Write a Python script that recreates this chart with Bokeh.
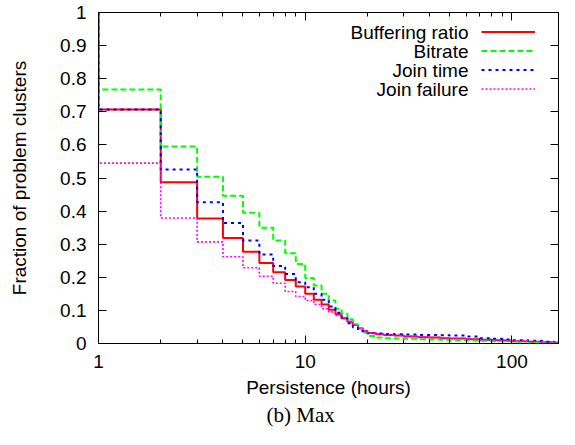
from bokeh.plotting import figure
from bokeh.models import Range1d, FixedTicker, LogAxis, LinearAxis, Legend, LegendItem, Label, Title
from bokeh.embed import file_html
from bokeh.resources import INLINE

# ---------------- data ----------------
hours = [1, 2, 3, 4, 5, 6, 7, 8, 9, 10, 11, 12, 13, 14, 15, 16, 17, 18, 19, 20,
         22, 24, 27, 30, 35, 40, 45, 50, 60, 70, 80, 90, 100, 120, 140, 160]

buffering_ratio = [0.707, 0.487, 0.378, 0.319, 0.277, 0.243, 0.215, 0.192, 0.172, 0.150,
                   0.132, 0.118, 0.102, 0.088, 0.076, 0.066, 0.056, 0.046, 0.038, 0.032,
                   0.028, 0.026, 0.024, 0.021, 0.019, 0.018, 0.016, 0.015, 0.013, 0.011,
                   0.010, 0.009, 0.007, 0.005, 0.004, 0.002]
bitrate = [0.767, 0.595, 0.504, 0.446, 0.395, 0.350, 0.311, 0.273, 0.240, 0.198,
           0.175, 0.150, 0.130, 0.105, 0.090, 0.073, 0.058, 0.046, 0.033, 0.023,
           0.018, 0.016, 0.015, 0.014, 0.013, 0.012, 0.011, 0.010, 0.009, 0.008,
           0.007, 0.006, 0.005, 0.004, 0.003, 0.002]
join_time = [0.707, 0.526, 0.427, 0.364, 0.311, 0.269, 0.234, 0.210, 0.185, 0.170,
             0.150, 0.132, 0.112, 0.093, 0.076, 0.061, 0.048, 0.039, 0.033, 0.031,
             0.030, 0.029, 0.028, 0.027, 0.026, 0.026, 0.025, 0.024, 0.021, 0.016,
             0.014, 0.012, 0.010, 0.008, 0.005, 0.003]
join_failure = [0.545, 0.379, 0.307, 0.262, 0.229, 0.203, 0.182, 0.157, 0.142, 0.130,
                0.118, 0.105, 0.095, 0.085, 0.075, 0.066, 0.056, 0.046, 0.038, 0.032,
                0.028, 0.026, 0.024, 0.022, 0.020, 0.018, 0.016, 0.015, 0.013, 0.011,
                0.010, 0.009, 0.008, 0.006, 0.004, 0.003]

series_names = ["Buffering ratio", "Bitrate", "Join time", "Join failure"]
series_values = [buffering_ratio, bitrate, join_time, join_failure]

start_fraction = 1.0
x_min, x_max = 1, 168

x_ticks = [1, 10, 100]
x_tick_labels = ["1", "10", "100"]
x_minor_ticks = [2, 3, 4, 5, 6, 7, 8, 9, 20, 30, 40, 50, 60, 70, 80, 90]
y_ticks = [0, 0.1, 0.2, 0.3, 0.4, 0.5, 0.6, 0.7, 0.8, 0.9, 1]
y_tick_labels = ["0", "0.1", "0.2", "0.3", "0.4", "0.5", "0.6", "0.7", "0.8", "0.9", "1"]

x_label = "Persistence (hours)"
y_label = "Fraction of problem clusters"
caption = "(b) Max"

# ---------------- styles ----------------
colors = ["#ff0000", "#00ff00", "#0000ff", "#ff00ff"]
dashes = ["solid", "6 3", "3 4", "2 2"]
widths = [2, 2, 2, 1.6]
FONT = "Liberation Sans"
FS = "19px"

p = figure(width=559, height=429, x_axis_type="log",
           x_range=Range1d(x_min, x_max), y_range=Range1d(0, 1),
           output_backend="svg", toolbar_location=None,
           min_border_left=98, min_border_right=1, min_border_top=12, min_border_bottom=86)
p.grid.visible = False
p.outline_line_color = "black"
p.outline_line_width = 1
p.background_fill_color = "white"
p.border_fill_color = "white"

renderers = []
for vals, c, d, w in zip(series_values, colors, dashes, widths):
    xs = [hours[0]] + hours + [x_max]
    ys = [start_fraction] + vals + [vals[-1]]
    r = p.step(xs, ys, mode="after", line_color=c, line_dash=d, line_width=w)
    renderers.append(r)

xticker = FixedTicker(ticks=x_ticks, minor_ticks=x_minor_ticks)
yticker = FixedTicker(ticks=y_ticks, minor_ticks=[])


def style_axis(ax, labels=True):
    ax.axis_line_color = "black"
    ax.major_tick_line_color = "black"
    ax.minor_tick_line_color = "black"
    ax.major_tick_in = 8
    ax.major_tick_out = 0
    ax.minor_tick_in = 4
    ax.minor_tick_out = 0
    ax.major_label_text_font = FONT
    ax.major_label_text_font_size = FS
    ax.major_label_text_color = "black"
    ax.axis_label_text_font = FONT
    ax.axis_label_text_font_size = FS
    ax.axis_label_text_font_style = "normal"
    ax.axis_label_text_color = "black"
    if not labels:
        ax.major_label_text_font_size = "1px"
        ax.major_label_text_color = None
        ax.major_label_standoff = 0


xa = p.xaxis[0]
xa.ticker = xticker
xa.major_label_overrides = {t: l for t, l in zip(x_ticks, x_tick_labels)}
style_axis(xa)
xa.major_label_standoff = 11
xa.axis_label = x_label
xa.axis_label_standoff = 6

ya = p.yaxis[0]
ya.ticker = yticker
ya.major_label_overrides = {t: l for t, l in zip(y_ticks, y_tick_labels)}
style_axis(ya)
ya.minor_tick_in = 0
ya.major_label_standoff = 12
ya.axis_label = y_label
ya.axis_label_standoff = 27

top = LogAxis(ticker=xticker)
style_axis(top, labels=False)
p.add_layout(top, "above")
right = LinearAxis(ticker=yticker)
style_axis(right, labels=False)
right.minor_tick_in = 0
p.add_layout(right, "right")

# legend: samples drawn by the library, texts right-aligned to their left
row_h = 19
legend_x = 383
legend_top = 321
legend = Legend(items=[LegendItem(label=" ", renderers=[r]) for r in renderers],
                location=(legend_x, legend_top - row_h * len(renderers)),
                glyph_width=54, glyph_height=row_h, label_width=0, label_standoff=0,
                label_text_font_size="2px", padding=0, spacing=0, margin=0,
                border_line_color=None, background_fill_alpha=0)
p.add_layout(legend, "center")
for i, name in enumerate(series_names):
    p.add_layout(Label(x=legend_x - 13, y=legend_top - row_h * (i + 0.5),
                       x_units="screen", y_units="screen", text=name,
                       text_align="right", text_baseline="middle",
                       text_font=FONT, text_font_size=FS, text_color="black"))

cap = Title(text=caption, align="left", offset=168, standoff=0,
            text_font="Liberation Serif", text_font_size="21px",
            text_font_style="normal", text_color="black")
p.add_layout(cap, "below")

open("out.html", "w").write(file_html(p, INLINE))
